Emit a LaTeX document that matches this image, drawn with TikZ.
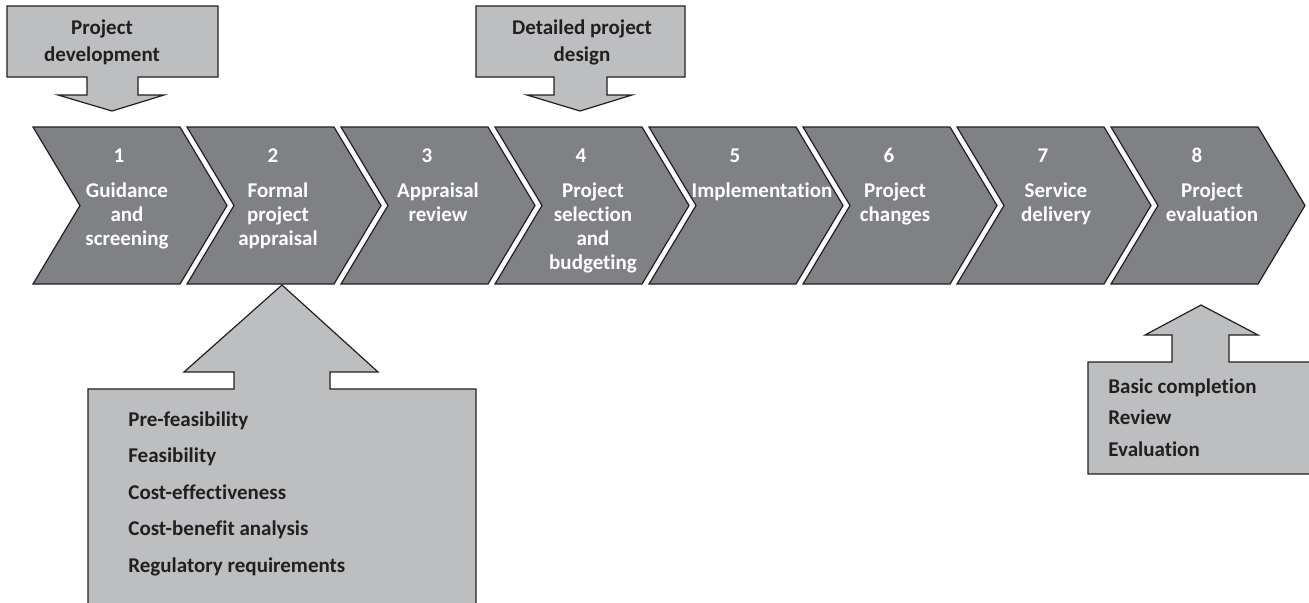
\documentclass[tikz,border=0pt]{standalone}
\usepackage{fontspec}
\setmainfont{Carlito}[Ligatures={NoCommon}]
\usepackage{tikz}

\definecolor{stepgray}{HTML}{808184}
\definecolor{boxgray}{HTML}{BCBEC0}
\definecolor{inkdark}{HTML}{231F20}

\tikzset{
  stage/.style={fill=stepgray,draw=inkdark,line width=0.6pt},
  stagenum/.style={text=white,font=\bfseries\fontsize{10.5}{12}\selectfont,anchor=base,inner sep=0pt},
  stagetext/.style={text=white,font=\bfseries\fontsize{10.5}{12}\selectfont,align=center,anchor=north,inner sep=0pt},
  blockarrow/.style={fill=boxgray,draw=inkdark,line width=0.6pt},
  boxtitle/.style={text=inkdark,font=\bfseries\fontsize{10.5}{13.5}\selectfont,align=center,anchor=north,inner sep=0pt},
}

\begin{document}
\begin{tikzpicture}[x=0.5pt,y=-0.5pt]
\useasboundingbox (0,0) rectangle (1309,602);
\clip (0,0) rectangle (1309,602);

% the eight stages
\foreach \k/\dx/\lbl in {1/94/{Guidance\\and\\screening},
    2/91/{Formal\\project\\appraisal},
    3/97/{Appraisal\\review},
    4/98/{Project\\selection\\and\\budgeting},
    5/113/{Implementation},
    6/92/{Project\\changes},
    7/99/{Service\\delivery},
    8/101/{Project\\evaluation}}{
  \pgfmathsetmacro{\xo}{33+154*(\k-1)}
  \draw[stage] (\xo,127) -- ++(147,0) -- ++(47,78.5) -- ++(-47,78.5)
    -- ++(-147,0) -- ++(47,-78.5) -- cycle;
  \node[stagenum] (num\k) at (\xo+86,162) {\k};
  \node[stagetext] (stage\k) at (\xo+\dx,182) {\lbl};
}

% arrows from above
\draw[blockarrow] (7,6) -- (218,6) -- (218,77) -- (138,77) -- (138,95) -- (164,95)
  -- (112,111) -- (58,95) -- (87,95) -- (87,77) -- (7,77) -- cycle;
\node[boxtitle] (develop) at (102,19) {Project\\development};

\draw[blockarrow] (476,6) -- (685,6) -- (685,77) -- (607,77) -- (607,95) -- (632,95)
  -- (580,111) -- (527,95) -- (554,95) -- (554,77) -- (476,77) -- cycle;
\node[boxtitle] (design) at (582,19) {Detailed project\\design};

% arrows from below
\draw[blockarrow] (88,620) -- (88,389) -- (234,389) -- (234,372) -- (184,372)
  -- (282,285) -- (378,372) -- (330,372) -- (330,389) -- (476,389) -- (476,620) -- cycle;
\node[boxtitle,align=left,anchor=north west,font=\bfseries\fontsize{10.5}{18.25}\selectfont]
  (appraisal) at (128,411) {Pre-feasibility\\Feasibility\\Cost-effectiveness\\
  Cost-benefit analysis\\Regulatory requirements};

\draw[blockarrow] (1088,474) -- (1088,362) -- (1172,362) -- (1172,335) -- (1145,335)
  -- (1201,305) -- (1258,335) -- (1229,335) -- (1229,362) -- (1330,362) -- (1330,474) -- cycle;
\node[boxtitle,align=left,anchor=north west,font=\bfseries\fontsize{10.5}{15.75}\selectfont]
  (evaluate) at (1108,378) {Basic completion\\Review\\Evaluation};
\end{tikzpicture}
\end{document}
